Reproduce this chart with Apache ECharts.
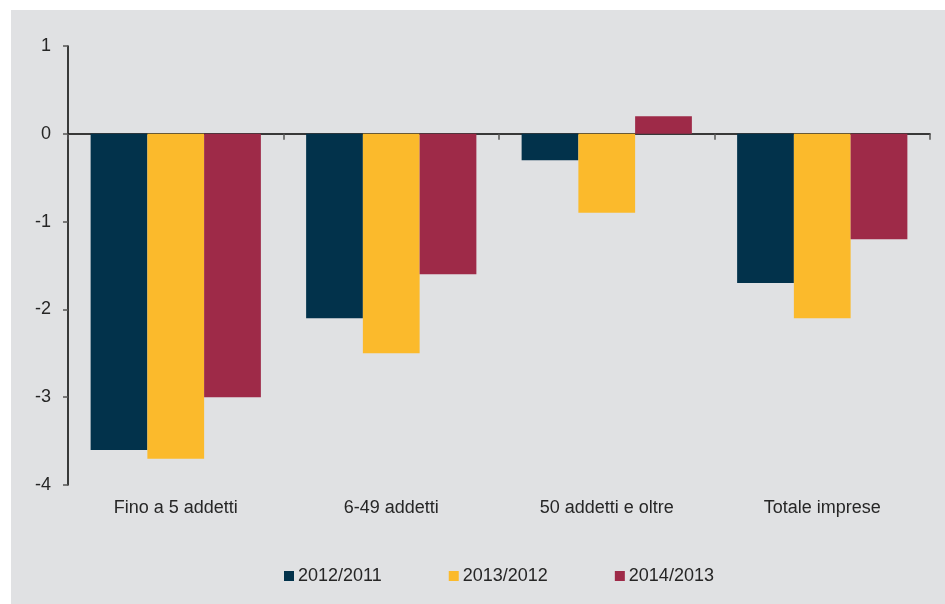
<!DOCTYPE html>
<html><head><meta charset="utf-8">
<script src="https://cdn.jsdelivr.net/npm/echarts@6/dist/echarts.min.js"></script>
<style>
html,body{margin:0;padding:0;background:#fff;width:945px;height:604px;overflow:hidden}
#c{position:absolute;left:11px;top:10px;width:934px;height:594px;background:#e0e1e3}
</style></head>
<body><div id="c"></div>
<script>
const categories = ['Fino a 5 addetti', '6-49 addetti', '50 addetti e oltre', 'Totale imprese'];
const seriesNames = ['2012/2011', '2013/2012', '2014/2013'];
const s2012 = [-3.6, -2.1, -0.3, -1.7];
const s2013 = [-3.7, -2.5, -0.9, -2.1];
const s2014 = [-3.0, -1.6, 0.2, -1.2];
const colors = ['#02324b', '#fbba2c', '#9e2a48'];
const yTicks = [-4, -3, -2, -1, 0, 1];

const font = '"Liberation Sans", Arial, sans-serif';
const chart = echarts.init(document.getElementById('c'), null, {renderer: 'canvas'});
chart.setOption({
  animation: false,
  backgroundColor: 'transparent',
  color: colors,
  grid: {left: 57, right: 15, top: 36, bottom: 119, containLabel: false},
  legend: {
    bottom: 14, left: 268, itemWidth: 10, itemHeight: 10, itemGap: 67,
    icon: 'rect',
    textStyle: {fontFamily: font, fontSize: 18, color: '#262626', padding: [0, 0, 0, -1]},
    data: seriesNames
  },
  xAxis: [{
    type: 'category', data: categories, position: 'bottom',
    axisLine: {show: false, onZero: false}, axisTick: {show: false},
    axisLabel: {fontFamily: font, fontSize: 18, color: '#262626', margin: 14}
  }, {
    type: 'category', data: categories, position: 'bottom',
    axisLine: {show: true, onZero: true, lineStyle: {color: '#000', width: 1.5}},
    axisTick: {show: true, length: 6, inside: false, lineStyle: {color: '#555', width: 1.5}},
    axisLabel: {show: false}
  }],
  yAxis: {
    type: 'value', min: yTicks[0], max: yTicks[yTicks.length - 1], interval: 1,
    axisLine: {show: true, lineStyle: {color: '#000', width: 1.5}},
    axisTick: {show: true, length: 5, lineStyle: {color: '#555', width: 1.5}},
    splitLine: {show: false},
    axisLabel: {fontFamily: font, fontSize: 18, color: '#262626', margin: 17}
  },
  series: [
    {name: seriesNames[0], type: 'bar', data: s2012, barGap: '0%', barCategoryGap: '21%'},
    {name: seriesNames[1], type: 'bar', data: s2013, barGap: '0%', barCategoryGap: '21%'},
    {name: seriesNames[2], type: 'bar', data: s2014, barGap: '0%', barCategoryGap: '21%'}
  ]
});
</script></body></html>
